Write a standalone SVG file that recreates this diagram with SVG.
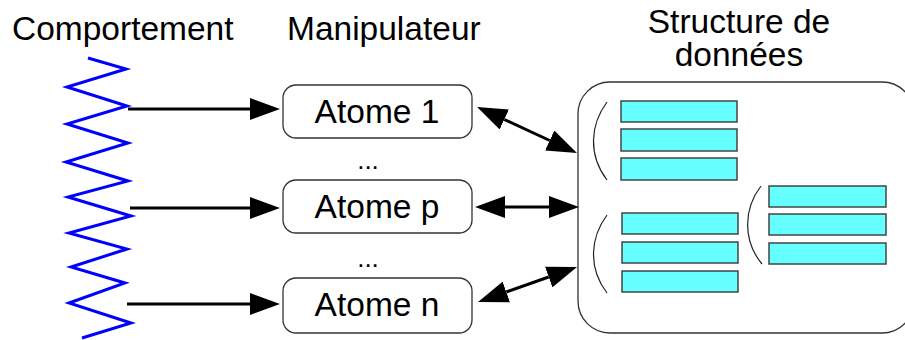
<svg xmlns="http://www.w3.org/2000/svg" width="905" height="340" viewBox="0 0 905 340">
<style>
text{font-family:"Liberation Sans",Arial,sans-serif;fill:#000}
.hdr{font-size:33.5px}
.lbl{font-size:33.5px;text-anchor:middle}
.dots{font-size:26px;text-anchor:middle}
.box{fill:#fff;stroke:#333;stroke-width:1.3}
.bar{fill:#66ffff;stroke:#444;stroke-width:1.5}
.brace{fill:none;stroke:#222;stroke-width:1.2}
.conn{stroke:#000;stroke-width:3;fill:none}
</style>
<defs>
<marker id="ah" markerUnits="userSpaceOnUse" markerWidth="30" markerHeight="22" refX="0" refY="11" orient="auto-start-reverse" viewBox="0 0 30 22">
<path d="M0,0 L30,11 L0,22 z" fill="#000"/>
</marker>
</defs>
<g id="headers">
<text class="hdr" x="12" y="40">Comportement</text>
<text class="hdr" x="287" y="40">Manipulateur</text>
<text class="lbl" x="739" y="33">Structure de</text>
<text class="lbl" x="739" y="66">données</text>
</g>
<g id="comportement">
<polyline fill="none" stroke="#0000ff" stroke-width="3" points="88,58 126,69 67,87 127,106 67,124 128,143 66,162 128,181 68,197 131,216 69,233 127,249 71,267 125,283 69,303 131,323 82,338"/>
</g>
<g id="atome1">
<rect class="box" x="283" y="85" width="189" height="53" rx="13"/>
<text class="lbl" x="377" y="123">Atome 1</text>
</g>
<g id="dots1"><text class="dots" x="368" y="169">...</text></g>
<g id="atomep">
<rect class="box" x="283" y="180" width="189" height="53" rx="13"/>
<text class="lbl" x="377" y="218">Atome p</text>
</g>
<g id="dots2"><text class="dots" x="368" y="267">...</text></g>
<g id="atomen">
<rect class="box" x="283" y="278" width="189" height="55" rx="13"/>
<text class="lbl" x="377" y="316">Atome n</text>
</g>
<g id="structure">
<rect class="box" x="578" y="82" width="336" height="251" rx="32"/>
<rect class="bar" x="621" y="101" width="116" height="21"/>
<rect class="bar" x="621" y="129" width="116" height="22"/>
<rect class="bar" x="621" y="158" width="116" height="22"/>
<rect class="bar" x="622" y="213" width="116" height="21"/>
<rect class="bar" x="622" y="242" width="116" height="21"/>
<rect class="bar" x="622" y="271" width="116" height="21"/>
<rect class="bar" x="769" y="186" width="117" height="21"/>
<rect class="bar" x="769" y="214" width="117" height="21"/>
<rect class="bar" x="769" y="243" width="117" height="21"/>
<path class="brace" d="M607,102 C590,125 588,155 607,180"/>
<path class="brace" d="M607,215 C590,238 588,268 607,293"/>
<path class="brace" d="M761,186 C744,208 742,240 762,264"/>
</g>
<g id="connectors">
<line class="conn" x1="128" y1="109" x2="250" y2="109" marker-end="url(#ah)"/>
<line class="conn" x1="130" y1="208" x2="250" y2="208" marker-end="url(#ah)"/>
<line class="conn" x1="127" y1="304" x2="250" y2="304" marker-end="url(#ah)"/>
<line class="conn" x1="504.3" y1="119.5" x2="549.7" y2="140.5" marker-start="url(#ah)" marker-end="url(#ah)"/>
<line class="conn" x1="505" y1="207" x2="549" y2="207" marker-start="url(#ah)" marker-end="url(#ah)"/>
<line class="conn" x1="506.3" y1="292" x2="548.7" y2="277" marker-start="url(#ah)" marker-end="url(#ah)"/>
</g>
</svg>
